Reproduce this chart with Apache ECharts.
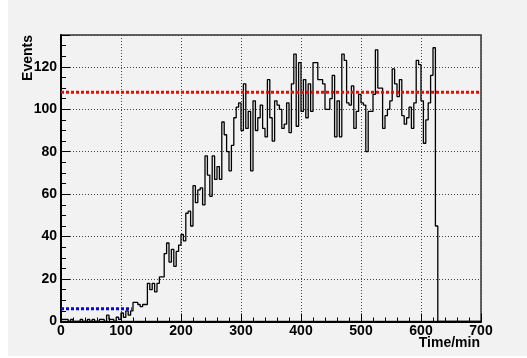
<!DOCTYPE html>
<html>
<head>
<meta charset="utf-8">
<script src="https://cdn.jsdelivr.net/npm/echarts@6.0.0/dist/echarts.min.js"></script>
<style>
  html, body { margin: 0; padding: 0; background: #fff; }
  #wrap { position: relative; width: 527px; height: 358px; background: #fff; }
  #chart { position: absolute; left: 8px; top: 0; width: 519px; height: 356px; background: #f2f2f2; }
</style>
</head>
<body>
<div id="wrap"><div id="chart"></div></div>
<script>
// histogram: 4 min bins starting at 0
const binWidth = 4;
const counts = [
  1, 1, 1, 0, 1, 0, 0, 0, 1, 0, 0, 1, 0, 1, 0, 0, 1, 1, 0, 3,
  1, 1, 0, 2, 1, 4, 2, 5, 3, 5, 9, 9, 8, 7, 8, 8, 18, 15, 18, 14,
  18, 21, 21, 32, 37, 28, 34, 26, 33, 36, 41, 38, 51, 52, 45, 64, 56, 62, 63, 55,
  78, 69, 59, 78, 67, 73, 67, 94, 88, 80, 71, 83, 96, 101, 103, 90, 112, 91, 99, 71,
  104, 90, 96, 102, 91, 87, 114, 96, 85, 104, 102, 100, 91, 93, 103, 89, 112, 126, 92, 122,
  99, 114, 96, 112, 99, 122, 122, 114, 114, 112, 100, 100, 105, 116, 87, 104, 87, 126, 123, 103,
  102, 111, 91, 99, 107, 103, 102, 80, 99, 99, 107, 128, 110, 110, 91, 97, 100, 104, 119, 112,
  106, 114, 97, 93, 96, 101, 91, 103, 123, 121, 104, 84, 95, 103, 116, 129, 45
];
// dashed reference levels
const meanLevel = 108;
const baseLevel = 6;
const baseEnd = 118;
// axes
const xMin = 0, xMax = 700, xStep = 100;
const yMin = 0, yMax = 135, yStep = 20, yMinorStep = 5;

const font = 'Liberation Sans, Arial, Helvetica, sans-serif';

let histData = [];
for (let i = 0; i < counts.length; i++) {
  histData.push([i * binWidth, counts[i]]);
}
histData.push([counts.length * binWidth, 0]);
histData.push([xMax, 0]);

const chart = echarts.init(document.getElementById('chart'), null, { renderer: 'canvas' });

chart.setOption({
  animation: false,
  backgroundColor: '#f2f2f2',
  grid: {
    left: 53, right: 46, top: 35, bottom: 34.5,
    show: true, borderColor: '#333', borderWidth: 1.5, backgroundColor: 'transparent'
  },
  xAxis: {
    type: 'value', min: xMin, max: xMax, interval: xStep,
    axisLine: { show: true, lineStyle: { color: '#000', width: 2 } },
    axisTick: { inside: true, length: 8, lineStyle: { color: '#000', width: 1 } },
    minorTick: { show: true, splitNumber: 5, length: 4, lineStyle: { color: '#000', width: 1 } },
    axisLabel: { color: '#000', fontFamily: font, fontWeight: 'bold', fontSize: 14, margin: 3 },
    splitLine: { show: true, lineStyle: { color: '#444', width: 1, type: [1, 2] } }
  },
  yAxis: [
    {
      type: 'value', min: yMin, max: yMax, interval: yStep,
      axisLine: { show: true, lineStyle: { color: '#000', width: 2 } },
      axisTick: { inside: true, length: 9, lineStyle: { color: '#000', width: 1 } },
      axisLabel: {
        color: '#000', fontFamily: font, fontWeight: 'bold', fontSize: 14, margin: 4,
        formatter: v => (v % yStep === 0 ? String(v) : '')
      },
      splitLine: { show: true, lineStyle: { color: '#444', width: 1, type: [1, 2] } }
    },
    {
      // only for the small ticks every 5
      type: 'value', min: yMin, max: yMax, interval: yMinorStep, position: 'left',
      axisLine: { show: false },
      axisTick: { show: true, inside: true, length: 5, lineStyle: { color: '#000', width: 1 } },
      axisLabel: { show: false },
      splitLine: { show: false }
    }
  ],
  series: [
    {
      name: 'hist', type: 'line', step: 'end', data: histData,
      symbol: 'none', lineStyle: { color: '#000', width: 1.3 }, z: 3
    },
    {
      name: 'mean', type: 'line', data: [[xMin, meanLevel], [xMax, meanLevel]],
      symbol: 'none', lineStyle: { color: '#ff0000', width: 3, type: [3, 2] }, z: 4
    },
    {
      name: 'base', type: 'line', data: [[xMin, baseLevel], [baseEnd, baseLevel]],
      symbol: 'none', lineStyle: { color: '#0000ff', width: 3, type: [3, 2] }, z: 4
    }
  ],
  graphic: [
    {
      type: 'text', x: 20, y: 35, rotation: Math.PI / 2,
      style: { text: 'Events', fill: '#000', font: 'bold 14px ' + font, align: 'right', verticalAlign: 'middle' }
    },
    {
      type: 'text', x: 472, y: 343.5,
      style: { text: 'Time/min', fill: '#000', font: 'bold 14px ' + font, align: 'right', verticalAlign: 'middle' }
    }
  ]
});
</script>
</body>
</html>
